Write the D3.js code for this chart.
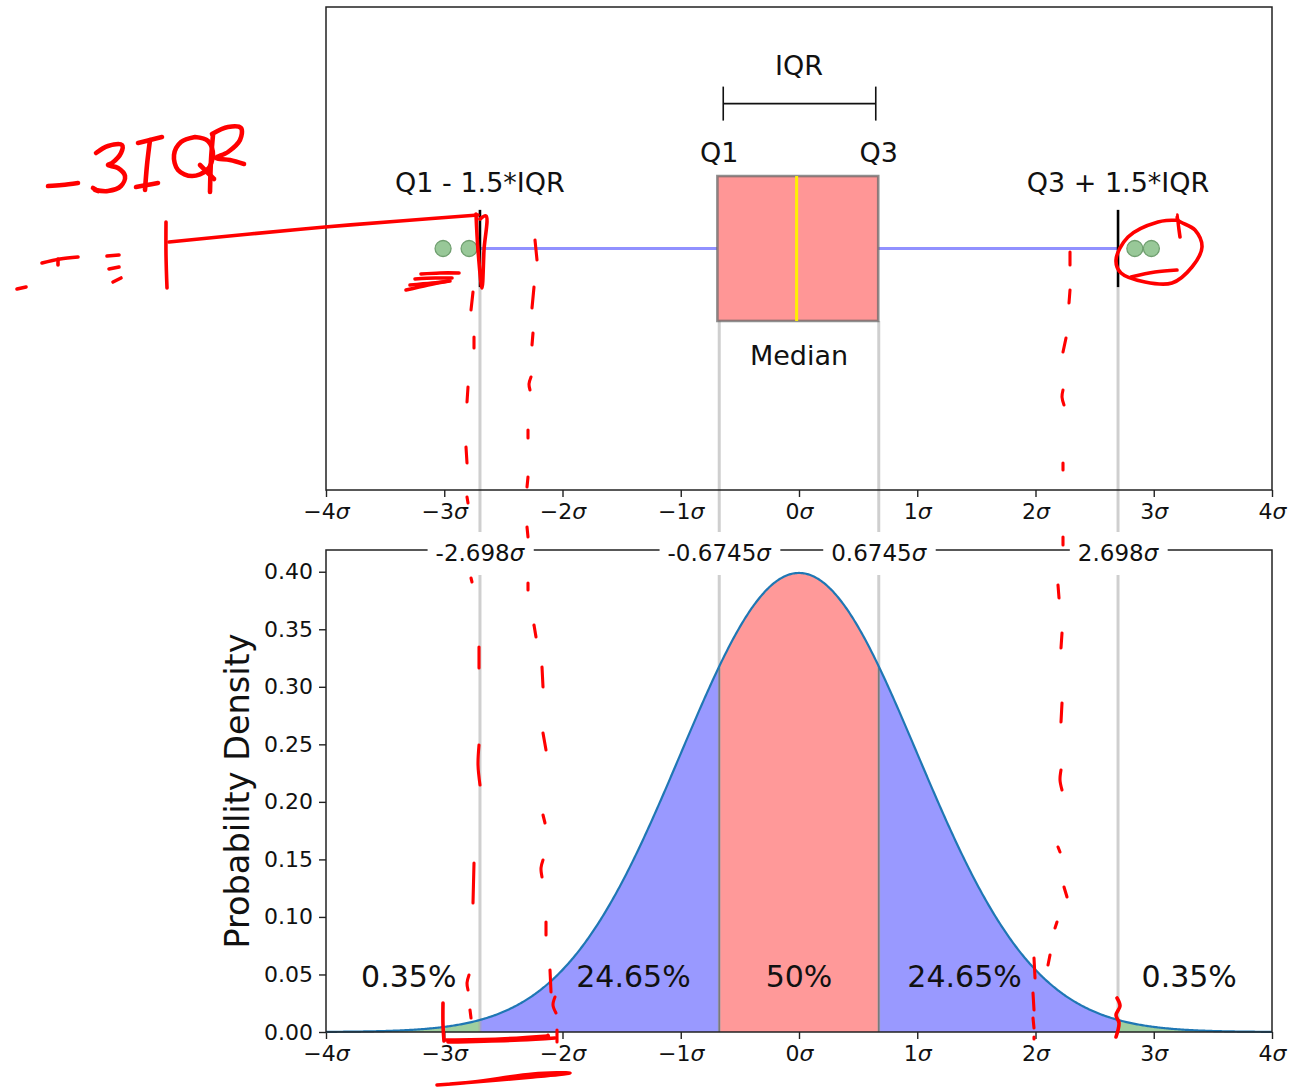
<!DOCTYPE html>
<html>
<head>
<meta charset="utf-8">
<script src="https://cdn.jsdelivr.net/npm/d3@7"></script>
<style>
  html, body { margin: 0; padding: 0; background: #fff; }
  svg { display: block; font-family: "DejaVu Sans", sans-serif; }
</style>
</head>
<body>
<svg id="chart" width="1294" height="1089"></svg>
<script>
// ---- values ----
const sigmaTicks = [-4, -3, -2, -1, 0, 1, 2, 3, 4];
const densityTicks = [0, 0.05, 0.10, 0.15, 0.20, 0.25, 0.30, 0.35, 0.40];
const quartiles = [-0.6745, 0.6745];
const fences = [-2.698, 2.698];
const boundaryValues = [-2.698, -0.6745, 0.6745, 2.698];
const boundaryLabels = ["-2.698", "-0.6745", "0.6745", "2.698"];
const boxStats = [-0.69, -0.02, 0.67];          // sample q1, median, q3
const outliers = [-3.01, -2.79, 2.84, 2.98];
const regionShares = ["0.35%", "24.65%", "50%", "24.65%", "0.35%"];
const regionCenters = [-3.3, -1.4, 0, 1.4, 3.3];
const regionKinds = ["tail", "mid", "core", "mid", "tail"];

// handwritten "-3IQR" note (page pixels)
const inkLetters = [
  [[48,186],[62,185],[78,183]],
  [[96,153],[108,146],[122,145],[121,153],[112,163],[108,165],[118,168],[125,176],[121,186],[108,191],[95,190]],
  [[93,188],[98,191]],
  [[138,143],[150,140],[162,137]],
  [[150,140],[147,165],[145,190]],
  [[136,187],[147,185],[158,183]],
  [[195,137],[181,142],[174,155],[178,170],[192,176],[207,170],[213,155],[208,141],[195,137]],
  [[200,165],[214,179]],
  [[213,135],[211,160],[210,192]],
  [[212,134],[228,127],[241,128],[240,140],[228,152],[216,158],[230,160],[244,164]]
];
// other freehand red pen strokes (page pixels)
const inkStrokes = [
  [[166,222],[166,255],[167,288]],
  [[169,242],[250,234],[325,227],[400,221],[478,215]],
  [[476,214],[478,250],[482,288],[484,250],[486,216],[480,219]],
  [[421,274],[440,273],[459,273]],
  [[415,279],[435,278],[452,278]],
  [[410,285],[432,283],[450,281]],
  [[406,290],[428,285],[448,281]],
  [[42,263],[60,259],[78,257]],
  [[58,259],[58,265]],
  [[107,256],[119,255]],
  [[109,269],[119,267]],
  [[113,282],[121,278]],
  [[17,289],[26,287]],
  [[1178,220],[1158,222],[1128,237],[1116,260],[1121,273],[1145,282],[1172,283],[1192,267],[1202,247],[1195,230],[1178,220],[1177,215],[1180,237]],
  [[1131,277],[1155,272],[1177,270]],
  [[443,1003],[443,1025],[444,1041]],
  [[446,1040],[500,1039],[548,1036]],
  [[448,1042],[520,1040],[555,1038]],
  [[437,1085],[473,1082],[533,1074],[570,1073],[533,1077],[450,1084]],
  [[1117,998],[1120,1006],[1116,1015],[1119,1023],[1116,1037]]
];
const inkDashes = [
  [[473,292],[471,310]],[[474,337],[474,348]],[[468,387],[467,402]],[[466,447],[467,463]],
  [[467,497],[468,503]],[[471,578],[472,582]],[[479,647],[479,668]],[[479,745],[478,765],[480,785]],
  [[474,863],[473,903]],[[469,975],[467,983],[468,990]],[[470,1010],[471,1018]],
  [[535,240],[537,260]],[[534,287],[532,308]],[[533,333],[532,345]],[[531,377],[529,384],[530,390]],
  [[528,430],[528,438]],[[528,477],[527,487]],[[527,527],[528,537]],[[528,583],[528,590]],
  [[534,625],[536,637]],[[542,667],[543,687]],[[543,733],[546,750]],[[543,815],[545,823]],
  [[543,860],[541,868],[542,877]],[[546,922],[546,935]],[[550,970],[551,992]],[[555,997],[553,1005],[556,1013]],
  [[557,1030],[557,1042]],[[548,1035],[549,1038]],
  [[1070,252],[1070,265]],[[1070,290],[1069,303]],[[1066,338],[1063,352]],[[1063,390],[1062,397],[1064,405]],
  [[1063,463],[1063,470]],[[1063,537],[1063,545]],[[1058,585],[1059,598]],[[1062,633],[1061,648]],
  [[1062,703],[1061,722]],[[1061,770],[1060,780],[1062,790]],[[1058,847],[1060,852]],[[1064,887],[1067,897]],
  [[1057,922],[1055,928]],[[1050,955],[1048,965]],
  [[1034,958],[1035,978]],[[1033,993],[1034,1010]],[[1033,1018],[1034,1028]],[[1034,1037],[1034,1039]]
];

// ---- layout ----
const svg = d3.select("#chart");
const left = 326, right = 1272;
const topPanel = { top: 7, bottom: 490 };
const lowPanel = { top: 550, bottom: 1032 };

const x = d3.scaleLinear().domain([-4, 4]).range([left, right]);
const yBox = d3.scaleLinear().domain([0.5, 1.5]).range([topPanel.bottom, topPanel.top]);
const pdf = v => Math.exp(-v * v / 2) / Math.sqrt(2 * Math.PI);
const yPdf = d3.scaleLinear().domain([0, pdf(0) * 1.05]).range([lowPanel.bottom, lowPanel.top]);

const FS_TICK = 22, FS_TEXT = 27, FS_PCT = 30, FS_YLAB = 33.5, FS_BOUND = 23;

// Writes a label such as "−3σ" with an italic sigma.
function sigmaLabel(sel, num) {
  sel.text(null);
  sel.append("tspan").text(num);
  sel.append("tspan").attr("font-style", "italic").text("σ");
}
const tickNum = v => (v < 0 ? "\u2212" + Math.abs(v) : String(v));

// ---- sigma axes ----
function sigmaAxis(yPos) {
  const g = svg.append("g").attr("transform", `translate(0,${yPos})`)
    .call(d3.axisBottom(x).tickValues(sigmaTicks).tickSize(7).tickPadding(6).tickSizeOuter(0));
  g.select(".domain").remove();
  g.selectAll(".tick line").attr("stroke", "#222").attr("stroke-width", 1.4);
  g.selectAll(".tick text").attr("font-size", FS_TICK).attr("fill", "#111")
    .attr("font-family", "DejaVu Sans")
    .each(function (d) { sigmaLabel(d3.select(this), tickNum(d)); });
  return g;
}
sigmaAxis(topPanel.bottom);
sigmaAxis(lowPanel.bottom);

// density axis
const yAx = svg.append("g").attr("transform", `translate(${left},0)`)
  .call(d3.axisLeft(yPdf).tickValues(densityTicks).tickFormat(d3.format(".2f")).tickSize(7).tickPadding(6).tickSizeOuter(0));
yAx.select(".domain").remove();
yAx.selectAll(".tick line").attr("stroke", "#222").attr("stroke-width", 1.4);
yAx.selectAll(".tick text").attr("font-size", FS_TICK).attr("fill", "#111").attr("font-family", "DejaVu Sans");

svg.append("text")
  .attr("transform", `translate(249,${(lowPanel.top + lowPanel.bottom) / 2}) rotate(-90)`)
  .attr("text-anchor", "middle").attr("font-size", FS_YLAB).attr("fill", "#111")
  .text("Probability Density");

// ---- density regions ----
const samples = d3.range(-4, 4.0001, 0.01).map(v => Math.round(v * 1000) / 1000);
const edges = [-4, ...boundaryValues, 4];
const kindFill = { tail: "#9fcf9f", mid: "#9999ff", core: "#ff9999" };
const area = d3.area().x(d => x(d)).y0(yPdf(0)).y1(d => yPdf(pdf(d)));
regionKinds.forEach((kind, i) => {
  const a = edges[i], b = edges[i + 1];
  const pts = [a, ...samples.filter(v => v > a && v < b), b];
  svg.append("path").datum(pts).attr("d", area).attr("fill", kindFill[kind]);
});
// dark edges of the central region
quartiles.forEach(q => {
  svg.append("line").attr("x1", x(q)).attr("x2", x(q))
    .attr("y1", yPdf(0)).attr("y2", yPdf(pdf(q)))
    .attr("stroke", "#444").attr("stroke-width", 1.6);
});

// ---- guide lines linking both panels ----
const guideTops = [
  { v: fences[0], top: yBox(0.92) },
  { v: quartiles[0], top: yBox(0.85) },
  { v: quartiles[1], top: yBox(0.85) },
  { v: fences[1], top: yBox(0.92) }
];
guideTops.forEach(g => {
  svg.append("line").attr("x1", x(g.v)).attr("x2", x(g.v))
    .attr("y1", g.top).attr("y2", lowPanel.bottom)
    .attr("stroke", "#a8a8a8").attr("stroke-opacity", 0.55).attr("stroke-width", 3);
});

// density curve
svg.append("path").datum(samples)
  .attr("d", d3.line().x(d => x(d)).y(d => yPdf(pdf(d))))
  .attr("fill", "none").attr("stroke", "#1f77b4").attr("stroke-width", 2.2);

// ---- panel frames ----
svg.append("rect").attr("x", left).attr("y", topPanel.top)
  .attr("width", right - left).attr("height", topPanel.bottom - topPanel.top)
  .attr("fill", "none").attr("stroke", "#222").attr("stroke-width", 1.5);
svg.append("rect").attr("x", left).attr("y", lowPanel.top)
  .attr("width", right - left).attr("height", lowPanel.bottom - lowPanel.top)
  .attr("fill", "none").attr("stroke", "#222").attr("stroke-width", 1.5);

// boundary labels across the top of the density panel
boundaryValues.forEach((v, i) => {
  const t = svg.append("text").attr("x", x(v)).attr("y", lowPanel.top + 11)
    .attr("text-anchor", "middle").attr("font-size", FS_BOUND).attr("fill", "#111");
  sigmaLabel(t, boundaryLabels[i]);
  const bb = t.node().getBBox();
  svg.insert("rect", () => t.node())
    .attr("x", bb.x - 8).attr("y", lowPanel.top - 18)
    .attr("width", bb.width + 16).attr("height", 43).attr("fill", "#fff");
});

// region shares
regionShares.forEach((s, i) => {
  svg.append("text").attr("x", x(regionCenters[i])).attr("y", yPdf(0.039))
    .attr("text-anchor", "middle").attr("font-size", FS_PCT).attr("fill", "#111").text(s);
});

// ---- box plot ----
const yMid = yBox(1);
svg.append("line").attr("x1", x(fences[0])).attr("x2", x(boxStats[0]))
  .attr("y1", yMid).attr("y2", yMid).attr("stroke", "#9191ff").attr("stroke-width", 3);
svg.append("line").attr("x1", x(boxStats[2])).attr("x2", x(fences[1]))
  .attr("y1", yMid).attr("y2", yMid).attr("stroke", "#9191ff").attr("stroke-width", 3);
svg.append("rect").attr("x", x(boxStats[0])).attr("y", yBox(1.15))
  .attr("width", x(boxStats[2]) - x(boxStats[0])).attr("height", yBox(0.85) - yBox(1.15))
  .attr("fill", "#ff9696").attr("stroke", "#6a6a6a").attr("stroke-opacity", 0.75).attr("stroke-width", 2.6);
svg.append("line").attr("x1", x(boxStats[1])).attr("x2", x(boxStats[1]))
  .attr("y1", yBox(1.15)).attr("y2", yBox(0.85)).attr("stroke", "#fff000").attr("stroke-width", 3);
fences.forEach(f => {
  svg.append("line").attr("x1", x(f)).attr("x2", x(f))
    .attr("y1", yBox(1.08)).attr("y2", yBox(0.92)).attr("stroke", "#000").attr("stroke-width", 2.6);
});
svg.selectAll("circle.out").data(outliers).join("circle").attr("class", "out")
  .attr("cx", d => x(d)).attr("cy", yMid).attr("r", 8)
  .attr("fill", "#98c898").attr("stroke", "#709f70").attr("stroke-width", 1.3);

// IQR bracket
const yBr = yBox(1.3);
svg.append("line").attr("x1", x(quartiles[0]) + 4).attr("x2", x(quartiles[1]) - 3)
  .attr("y1", yBr).attr("y2", yBr).attr("stroke", "#111").attr("stroke-width", 1.6);
[x(quartiles[0]) + 4, x(quartiles[1]) - 3].forEach(px => {
  svg.append("line").attr("x1", px).attr("x2", px).attr("y1", yBr - 17).attr("y2", yBr + 17)
    .attr("stroke", "#111").attr("stroke-width", 1.6);
});

const boxTexts = [
  { t: "IQR", v: 0, y: 1.36 },
  { t: "Q1", v: quartiles[0], y: 1.179 },
  { t: "Q3", v: quartiles[1], y: 1.179 },
  { t: "Q1 - 1.5*IQR", v: fences[0], y: 1.117 },
  { t: "Q3 + 1.5*IQR", v: fences[1], y: 1.117 },
  { t: "Median", v: 0, y: 0.759 }
];
boxTexts.forEach(d => {
  svg.append("text").attr("x", x(d.v)).attr("y", yBox(d.y))
    .attr("text-anchor", "middle").attr("font-size", FS_TEXT).attr("fill", "#111").text(d.t);
});

// ---- red pen ----
const pen = d3.line().curve(d3.curveCatmullRom.alpha(0.5));
const ink = svg.append("g").attr("fill", "none").attr("stroke", "#ff0000")
  .attr("stroke-linecap", "round").attr("stroke-linejoin", "round");
inkLetters.forEach(s => ink.append("path").attr("d", pen(s)).attr("stroke-width", 4.6));
inkStrokes.forEach(s => ink.append("path").attr("d", pen(s)).attr("stroke-width", 3.6));
inkDashes.forEach(s => ink.append("path").attr("d", pen(s)).attr("stroke-width", 3.1));
</script>
</body>
</html>
